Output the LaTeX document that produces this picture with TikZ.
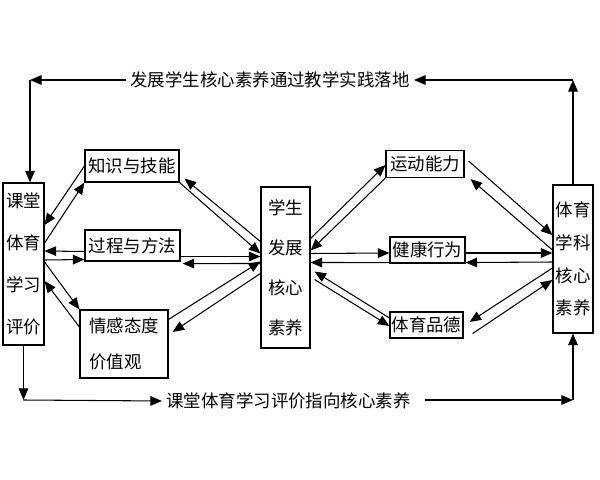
\documentclass[tikz,border=0pt]{standalone}
\usepackage{fontspec}
\newfontfamily\cjk{Noto Sans CJK SC}
\usetikzlibrary{calc, arrows.meta}

\begin{document}
\begin{tikzpicture}[
    x=0.025cm, y=-0.025cm,
    box/.style={draw, line width=0.8pt, inner sep=0pt, align=center, font=\cjk\fontsize{12.4}{15}\selectfont},
    col/.style={box, font=\cjk\fontsize{12.4}{#1}\selectfont},
    lbl/.style={inner ysep=1pt, inner xsep=3pt, font=\cjk\fontsize{12.4}{15}\selectfont},
    arr/.style={-{Triangle[length=2.9mm,width=2.4mm]}, line width=0.75pt}
]
\useasboundingbox (0,0) rectangle (600,480);

% columns
\node[col=29.8pt, minimum width=1.025cm, minimum height=4.05cm] (pj) at (23.5,264) {课堂\\体育\\学习\\评价};
\node[col=28.4pt, minimum width=1.225cm, minimum height=4.025cm] (hx) at (285.5,267.5) {学生\\发展\\核心\\素养};
\node[col=23.4pt, minimum width=1.0cm, minimum height=3.7cm] (xk) at (573,259) {体育\\学科\\核心\\素养};

% left boxes
\node[box, minimum width=2.35cm, minimum height=0.8cm] (zs) at (132,166) {知识与技能};
\node[box, minimum width=2.375cm, minimum height=0.775cm] (gc) at (132.5,245.5) {过程与方法};
\node[col=25.5pt, align=left, minimum width=2.2cm, minimum height=1.7cm] (qg) at (124,344) {情感态度\\价值观};

% right boxes
\node[box, minimum width=1.95cm, minimum height=0.675cm] (yd) at (425,164) {运动能力};
\node[box, minimum width=1.875cm, minimum height=0.65cm] (jk) at (427.5,250) {健康行为};
\node[box, minimum width=1.825cm, minimum height=0.65cm] (pd) at (426.5,325) {体育品德};

% loop labels
\node[lbl] (top) at (270,80) {发展学生核心素养通过教学实践落地};
\node[lbl] (bot) at (288.5,401) {课堂体育学习评价指向核心素养};
\coordinate (tl) at (30,80);
\coordinate (tr) at (573,80);
\coordinate (bl) at (23.5,400);
\coordinate (br) at (573,400);

% outer loop
\draw[arr] (xk.north) -- (tr);
\draw[arr] (tr) -- (top.east);
\draw[arr] (top.west) -- (tl);
\draw[arr] (tl) -- (tl |- pj.north);
\draw[arr] (pj.south) -- (bl);
\draw[arr] (bl) -- (bot.west);
\draw[arr] ($(bot.east)+(10,-1)$) -- (br);
\draw[arr] (br) -- (xk.south);

% evaluation <-> three goals
\draw[arr] (zs.west) -- ($(pj.east)+(0,-39)$);
\draw[arr] ($(pj.east)+(0,-21)$) -- (zs.south west);
\draw[arr] ($(gc.west)+(0,6)$) -- ($(pj.east)+(0,-13)$);
\draw[arr] ($(pj.east)+(0,-4)$) -- ($(gc.west)+(0,14)$);
\draw[arr] ($(pj.east)+(0,-2)$) -- (qg.north west);
\draw[arr] ($(qg.west)+(0,-17)$) -- ($(pj.east)+(0,17)$);

% three goals <-> core literacy
\draw[arr] (zs.south east) -- ($(hx.west)+(0,-14)$);
\draw[arr] ($(hx.west)+(0,-26)$) -- ($(zs.south east)+(5,-4)$);
\draw[arr] ($(gc.east)+(0,11)$) -- ($(hx.west)+(0,-11)$);
\draw[arr] ($(hx.west)+(0,-4)$) -- ($(gc.south east)+(2,2)$);
\draw[arr] ($(qg.north east)+(0,10)$) -- ($(hx.west)+(0,-6)$);
\draw[arr] ($(hx.west)+(0,6)$) -- ($(qg.east)+(4,-12)$);

% core literacy <-> PE literacy
\draw[arr] ($(hx.east)+(0,-29)$) -- ($(yd.west)+(0,1)$);
\draw[arr] (yd.south west) -- ($(hx.east)+(0,-17)$);
\draw[arr] ($(hx.east)+(0,-14)$) -- ($(jk.west)+(0,3)$);
\draw[arr] ($(jk.south west)+(10,-1)$) -- ($(hx.east)+(0,-5)$);
\draw[arr] ($(pd.west)+(0,-7)$) -- ($(hx.east)+(4,4)$);
\draw[arr] ($(hx.east)+(4,12)$) -- ($(pd.west)+(0,1)$);

% PE literacy <-> subject literacy
\draw[arr] ($(yd.east)+(4,-3)$) -- ($(xk.west)+(0,-24)$);
\draw[arr] ($(xk.west)+(0,-9)$) -- ($(yd.south east)+(6,1)$);
\draw[arr] ($(jk.east)+(0,3)$) -- ($(xk.west)+(0,-6)$);
\draw[arr] ($(xk.west)+(0,3)$) -- ($(jk.south east)+(0,-1)$);
\draw[arr] ($(xk.west)+(0,9)$) -- ($(pd.east)+(6,-3)$);
\draw[arr] ($(pd.south east)+(9,-5)$) -- ($(xk.west)+(0,21)$);
\end{tikzpicture}
\end{document}
